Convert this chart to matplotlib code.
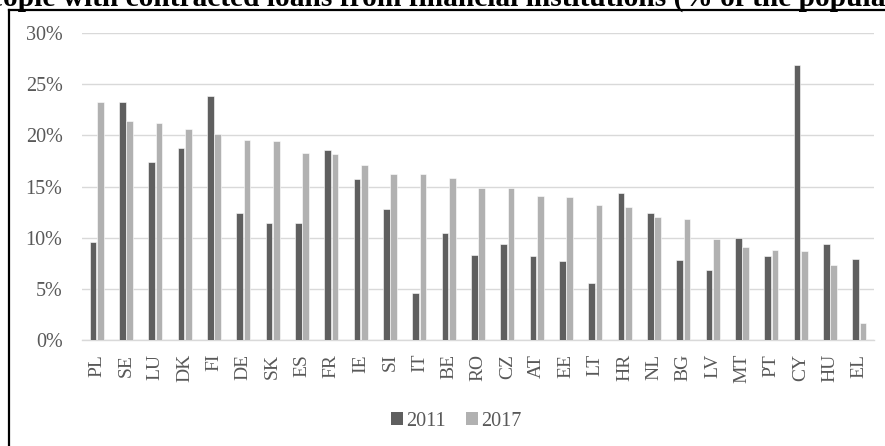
import matplotlib
matplotlib.use("Agg")
import matplotlib.pyplot as plt
import numpy as np
from matplotlib.lines import Line2D
from matplotlib.patches import Patch
from matplotlib.ticker import FuncFormatter

countries = ["PL", "SE", "LU", "DK", "FI", "DE", "SK", "ES", "FR", "IE", "SI", "IT",
             "BE", "RO", "CZ", "AT", "EE", "LT", "HR", "NL", "BG", "LV", "MT", "PT",
             "CY", "HU", "EL"]
loans_2011 = [9.6, 23.3, 17.4, 18.8, 23.8, 12.4, 11.4, 11.4, 18.6, 15.7, 12.8, 4.6,
              10.5, 8.3, 9.4, 8.2, 7.7, 5.6, 14.4, 12.4, 7.8, 6.8, 10.0, 8.2,
              26.9, 9.4, 7.9]
loans_2017 = [23.3, 21.4, 21.2, 20.6, 20.1, 19.5, 19.4, 18.3, 18.2, 17.1, 16.2, 16.2,
              15.8, 14.9, 14.9, 14.1, 14.0, 13.2, 13.0, 12.0, 11.8, 9.9, 9.1, 8.8,
              8.7, 7.3, 1.7]
series_labels = ["2011", "2017"]
yticks = [0, 5, 10, 15, 20, 25, 30]

W, H = 885, 446
fig = plt.figure(figsize=(W / 100, H / 100), dpi=100)
fig.patch.set_facecolor("white")

serif = ["Liberation Serif", "DejaVu Serif"]
dark = "#5f5f5f"
light = "#b1b1b1"
label_grey = "#595959"

ax = fig.add_axes([82 / W, 1 - 340 / H, (874 - 82) / W, (340 - 33) / H])
x = np.arange(len(countries))
bw = 0.235
ax.bar(x - 0.125, loans_2011, width=bw, color=dark, edgecolor="white",
       linewidth=0.4, zorder=3, label=series_labels[0])
ax.bar(x + 0.125, loans_2017, width=bw, color=light, edgecolor="white",
       linewidth=0.4, zorder=3, label=series_labels[1])

ax.set_xlim(-0.5, len(countries) - 0.5)
ax.set_ylim(0, 30)
ax.set_yticks(yticks)
ax.yaxis.set_major_formatter(FuncFormatter(lambda v, p: f"{v:.0f}%"))
ax.grid(axis="y", color="#d9d9d9", linewidth=1.0, zorder=0)
for s in ["top", "right", "left"]:
    ax.spines[s].set_visible(False)
ax.spines["bottom"].set_color("#d9d9d9")
ax.spines["bottom"].set_linewidth(1.0)

ax.set_xticks(x)
ax.set_xticklabels(countries, rotation=90, family=serif, fontsize=14,
                   color=label_grey)
ax.tick_params(axis="x", length=0, pad=10)
ax.tick_params(axis="y", length=0, pad=14, labelsize=14.5, labelcolor=label_grey)
for t in ax.get_yticklabels():
    t.set_family(serif)

handles = [Patch(facecolor=dark, edgecolor="none"),
           Patch(facecolor=light, edgecolor="none")]
fig.legend(handles, series_labels, loc="center", bbox_to_anchor=(456 / W, 1 - 421 / H),
           ncol=2, frameon=False, handlelength=0.6, handleheight=0.6,
           handletextpad=0.15, columnspacing=1.0,
           prop={"family": serif, "size": 14.5}, labelcolor=label_grey)

# chart frame
fig.add_artist(Line2D([8.5 / W, 8.5 / W], [0, 1 - 10 / H], transform=fig.transFigure,
                      color="black", linewidth=1.6))
fig.add_artist(Line2D([8.5 / W, 1], [1 - 10 / H, 1 - 10 / H], transform=fig.transFigure,
                      color="black", linewidth=1.6))

fig.text(0.518, 1 - 6 / H,
         "People with contracted loans from financial institutions (% of the population)",
         ha="center", va="baseline", family=serif, fontweight="bold", fontsize=21.2)

fig.savefig("out.png", dpi=100)
